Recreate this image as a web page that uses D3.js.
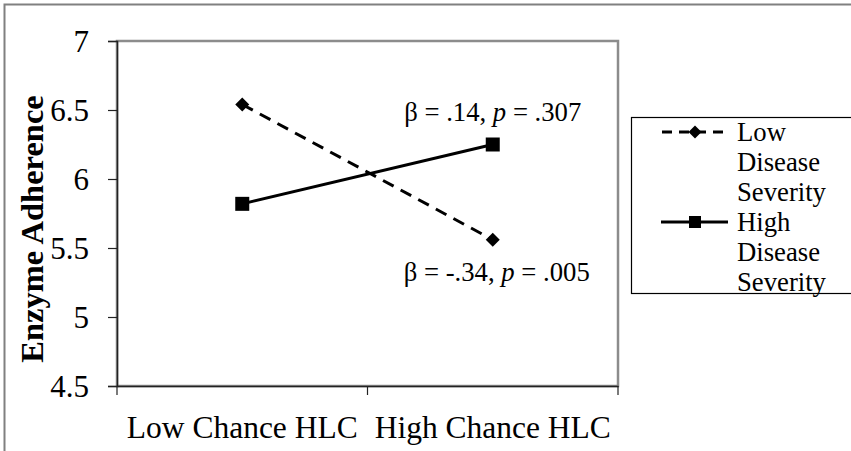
<!DOCTYPE html>
<html>
<head>
<meta charset="utf-8">
<script src="https://cdn.jsdelivr.net/npm/d3@7"></script>
<style>
  body { margin: 0; background: #fff; }
  svg, svg text { font-family: "Liberation Serif", "Times New Roman", Tinos, "DejaVu Serif", serif; }
</style>
</head>
<body>
<script>
// values
const categories = ["Low Chance HLC", "High Chance HLC"];
const seriesNames = [["Low", "Disease", "Severity"], ["High", "Disease", "Severity"]];
const lowSeverity = [6.54, 5.56];
const highSeverity = [5.82, 6.25];
const yTicks = [4.5, 5, 5.5, 6, 6.5, 7];
const notes = [
  { series: 1, cat: 1, parts: ["\u03b2 = .14, ", "p", " = .307"], dx: 0, dy: -24 },
  { series: 0, cat: 1, parts: ["\u03b2 = -.34, ", "p", " = .005"], dx: 4, dy: 41 }
];

let width = 851;
let height = 451;
let plot = { left: 117, right: 618, top: 41, bottom: 386 };
let serifFont = "'Liberation Serif', 'Times New Roman', Tinos, 'DejaVu Serif', serif";

let x = d3
  .scaleBand()
  .domain(categories)
  .range([plot.left, plot.right])
  .padding(0);

let y = d3
  .scaleLinear()
  .domain([4.5, 7])
  .range([plot.bottom, plot.top]);

let svg = d3
  .select("body")
  .append("svg")
  .attr("width", width)
  .attr("height", height)
  .attr("font-family", serifFont);

// outer chart border (right/bottom fall off the picture)
svg
  .append("rect")
  .attr("x", 4.5)
  .attr("y", 4.5)
  .attr("width", width + 10)
  .attr("height", height + 10)
  .attr("fill", "none")
  .attr("stroke", "#808080")
  .attr("stroke-width", 2);

// plot area border
svg
  .append("rect")
  .attr("x", plot.left)
  .attr("y", plot.top)
  .attr("width", plot.right - plot.left)
  .attr("height", plot.bottom - plot.top)
  .attr("fill", "none")
  .attr("stroke", "#8c8c8c")
  .attr("stroke-width", 2.5);

// y axis
let yAxis = g =>
  g
    .attr("transform", `translate(${plot.left},0)`)
    .call(d3.axisLeft(y).tickValues(yTicks).tickSize(9).tickPadding(19).tickFormat(d3.format("")))
    .attr("font-family", serifFont)
    .call(g => g.select(".domain").attr("stroke", "#222").attr("stroke-width", 1.5))
    .call(g => g.selectAll(".tick line").attr("stroke", "#222").attr("stroke-width", 1.2))
    .call(g =>
      g
        .selectAll(".tick text")
        .attr("font-size", 31)
        .attr("fill", "#000")
        .attr("dy", "0.34em")
    );

svg.append("g").call(yAxis);

// x axis: labels centred in each band, ticks on band edges
let xAxis = g =>
  g
    .attr("transform", `translate(0,${plot.bottom})`)
    .call(d3.axisBottom(x).tickSize(0).tickPadding(30))
    .attr("font-family", serifFont)
    .call(g => g.select(".domain").attr("stroke", "#222").attr("stroke-width", 1.5))
    .call(g =>
      g
        .selectAll(".tick text")
        .attr("font-size", 31.5)
        .attr("fill", "#000")
        .attr("dy", "0.71em")
    );

svg.append("g").call(xAxis);

let edges = [x(categories[0])].concat(categories.map(c => x(c) + x.bandwidth()));
svg
  .append("g")
  .selectAll("line")
  .data(edges)
  .enter()
  .append("line")
  .attr("x1", d => d)
  .attr("x2", d => d)
  .attr("y1", plot.bottom)
  .attr("y2", plot.bottom + 9)
  .attr("stroke", "#222")
  .attr("stroke-width", 1.2);

// y axis title
svg
  .append("text")
  .attr("transform", `translate(43,229) rotate(-90)`)
  .attr("text-anchor", "middle")
  .attr("font-size", 32.5)
  .attr("font-weight", "bold")
  .text("Enzyme Adherence");

// lines
let cx = i => x(categories[i]) + x.bandwidth() / 2;
let line = d3
  .line()
  .x((d, i) => cx(i))
  .y(d => y(d));

let diamond = s => `M0,${-s}L${s},0L0,${s}L${-s},0Z`;

let series = [
  { values: lowSeverity, dash: "12,8", marker: "diamond" },
  { values: highSeverity, dash: null, marker: "square" }
];

series.forEach(s => {
  svg
    .append("path")
    .datum(s.values)
    .attr("d", line)
    .attr("fill", "none")
    .attr("stroke", "#000")
    .attr("stroke-width", 3)
    .attr("stroke-dasharray", s.dash);

  let m = svg
    .append("g")
    .selectAll("path")
    .data(s.values)
    .enter()
    .append("path")
    .attr("transform", (d, i) => `translate(${cx(i)},${y(d)})`)
    .attr("fill", "#000");
  if (s.marker === "diamond") m.attr("d", diamond(7));
  else m.attr("d", "M-7,-7H7V7H-7Z");
});

// beta annotations
notes.forEach(n => {
  let vals = n.series === 0 ? lowSeverity : highSeverity;
  let t = svg
    .append("text")
    .attr("x", cx(n.cat) + n.dx)
    .attr("y", y(vals[n.cat]) + n.dy)
    .attr("text-anchor", "middle")
    .attr("font-size", 26.7);
  n.parts.forEach((p, i) => {
    t.append("tspan")
      .attr("font-style", i === 1 ? "italic" : null)
      .text(p);
  });
});

// legend
let legend = svg.append("g");
legend
  .append("rect")
  .attr("x", 631.5)
  .attr("y", 117.5)
  .attr("width", 240)
  .attr("height", 176)
  .attr("fill", "#fff")
  .attr("stroke", "#000")
  .attr("stroke-width", 1.2);

let legendRow = [132, 222];
series.forEach((s, k) => {
  let ly = legendRow[k];
  let g = legend.append("g");
  g.append("line")
    .attr("x1", 661)
    .attr("x2", 728)
    .attr("y1", ly)
    .attr("y2", ly)
    .attr("stroke", "#000")
    .attr("stroke-width", 3)
    .attr("stroke-dasharray", s.dash ? "10,7" : null)
    .attr("stroke-dashoffset", s.dash ? -1 : null);
  g.append("path")
    .attr("transform", `translate(695,${ly})`)
    .attr("d", s.marker === "diamond" ? diamond(6.5) : "M-6,-6H6V6H-6Z")
    .attr("fill", "#000");
  seriesNames[k].forEach((w, j) => {
    g.append("text")
      .attr("x", 737)
      .attr("y", 141 + k * 90 + j * 30)
      .attr("font-size", 26.7)
      .text(w);
  });
});
</script>
</body>
</html>
